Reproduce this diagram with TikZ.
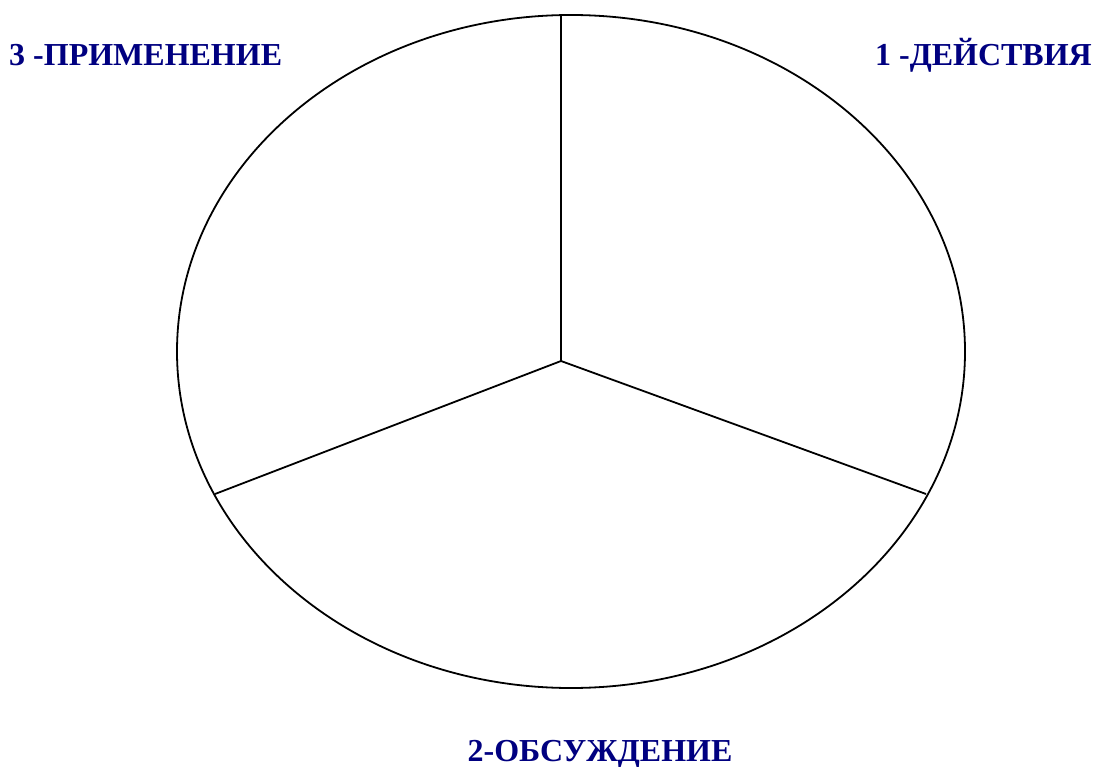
\documentclass[tikz,border=0pt]{standalone}
\usepackage{fontspec}
\setmainfont{Liberation Serif}
\definecolor{labelnavy}{RGB}{0,0,128}
\begin{document}
\begin{tikzpicture}[x=1pt,y=-1pt,
  lbl/.style={text=labelnavy,font=\fontsize{32}{36}\selectfont\bfseries,inner sep=0pt},
  edge/.style={draw=black,line width=1.8pt}]
\useasboundingbox (0,0) rectangle (1099,767);
\draw[edge] (571,351.5) ellipse [x radius=394, y radius=336.5];
\coordinate (c) at (561,361);
\coordinate (t) at (561,15.2);
\coordinate (r) at (926,494);
\coordinate (l) at (215,494);
\draw[edge] (c) -- (t);
\draw[edge] (c) -- (r);
\draw[edge] (c) -- (l);
\node[lbl,anchor=base west] (n3) at (9,66) {3 -ПРИМЕНЕНИЕ};
\node[lbl,anchor=base east] (n1) at (1092,66) {1 -ДЕЙСТВИЯ};
\node[lbl,anchor=base] (n2) at (600,761) {2-ОБСУЖДЕНИЕ};
\end{tikzpicture}
\end{document}
